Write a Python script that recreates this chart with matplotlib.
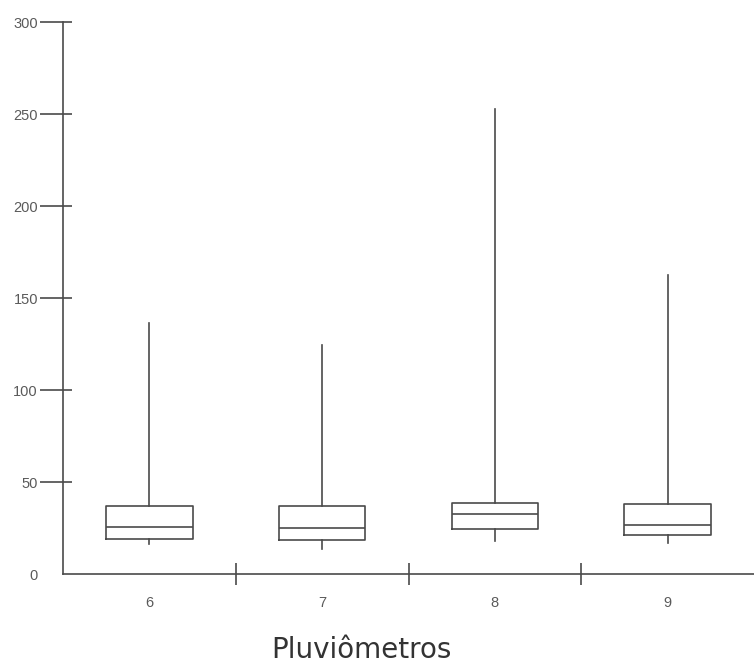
import matplotlib
matplotlib.use("Agg")
import matplotlib.pyplot as plt

categories = ["6", "7", "8", "9"]
q1 = [19.0, 18.3, 24.6, 21.0]
median = [25.5, 24.8, 32.4, 26.6]
q3 = [37.0, 37.0, 38.8, 37.9]
whisker_low = [16.3, 13.4, 18.1, 17.0]
whisker_high = [136.4, 124.5, 252.5, 162.7]
yticks = [0, 50, 100, 150, 200, 250, 300]
xlabel = "Pluviômetros"

LC = "#4a4a4a"
TC = "#5a5a5a"

W, H = 754, 671
fig = plt.figure(figsize=(W / 100, H / 100), dpi=100)
ax = fig.add_axes([63 / W, (H - 574) / H, (W - 63) / W, 552 / H])

stats = []
for i, c in enumerate(categories):
    stats.append(dict(label=c, q1=q1[i], med=median[i], q3=q3[i],
                      whislo=whisker_low[i], whishi=whisker_high[i], fliers=[]))

positions = list(range(1, len(categories) + 1))
ax.bxp(stats, positions=positions, widths=0.5, showcaps=False, showfliers=False,
       boxprops=dict(color=LC, linewidth=1.2),
       whiskerprops=dict(color=LC, linewidth=1.2),
       medianprops=dict(color=LC, linewidth=1.2))

ax.set_xlim(0.5, len(categories) + 0.5)
ax.set_ylim(0, 300)

for s in ["top", "right"]:
    ax.spines[s].set_visible(False)
for s in ["left", "bottom"]:
    ax.spines[s].set_color(LC)
    ax.spines[s].set_linewidth(1.2)

tick_font = dict(family="Liberation Sans", size=10.5)

# y ticks: long outward part plus short inward part
ax.set_yticks(yticks)
ax.set_yticklabels([str(v) for v in yticks], fontdict=tick_font)
ax.yaxis.remove_overlapping_locs = False
ax.set_yticks(yticks, minor=True)
ax.tick_params(axis="y", which="major", direction="out", length=16.5, width=1.2,
               color=LC, labelcolor=TC, pad=1.5)
ax.tick_params(axis="y", which="minor", direction="in", length=6.5, width=1.2, color=LC)
# no tick mark at zero
ax.yaxis.get_major_ticks()[0].tick1line.set_visible(False)
ax.yaxis.get_minor_ticks()[0].tick1line.set_visible(False)

# x: labels at category centres, separators between categories
ax.set_xticks(positions)
ax.set_xticklabels(categories, fontdict=tick_font)
ax.set_xticks([p + 0.5 for p in positions[:-1]], minor=True)
ax.tick_params(axis="x", which="major", length=0, labelcolor=TC, pad=16)
ax.tick_params(axis="x", which="minor", direction="inout", length=16.5, width=1.2, color=LC)

fig.text(361 / W, 13 / H, xlabel, ha="center", va="baseline", fontsize=20, color="#333333")

fig.savefig("out.png", dpi=100)
